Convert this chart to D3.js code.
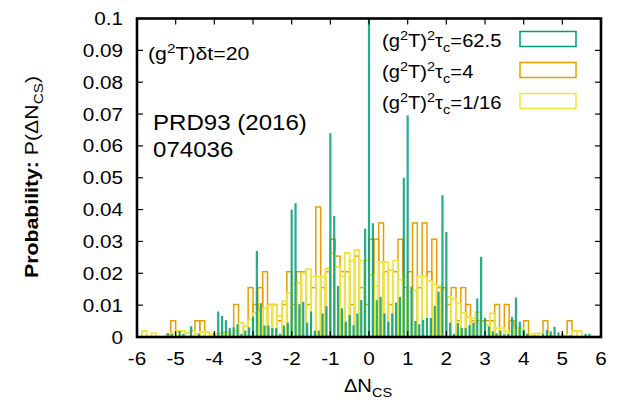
<!DOCTYPE html>
<html>
<head>
<meta charset="utf-8">
<script src="https://d3js.org/d3.v7.min.js"></script>
<style>
    body { margin: 0; background: #fff; }
    svg text { font-family: "Liberation Sans", Arial, sans-serif; fill: #000; }
</style>
</head>
<body>
<svg id="svg" width="621" height="402"></svg>
<script>
    // tick values / labels
    let xTicks = [-6, -5, -4, -3, -2, -1, 0, 1, 2, 3, 4, 5, 6];
    let yTicks = [0, 0.01, 0.02, 0.03, 0.04, 0.05, 0.06, 0.07, 0.08, 0.09, 0.1];
    let yTickLabels = ['0', '0.01', '0.02', '0.03', '0.04', '0.05', '0.06', '0.07', '0.08', '0.09', '0.1'];

    // (g^2T)^2 tau_c = 62.5 : narrow bins centred on -6.0, -5.9, ... 6.0
    let greenStart = -6, greenStep = 0.1;
    let greenVals = [
        0, 0, 0, 0, 0, 0, 0, 0, 0.0012, 0.001,           // -6.0 .. -5.1
        0, 0.0019, 0.001, 0, 0.0034, 0, 0.001, 0, 0, 0,   // -5.0 .. -4.1
        0.0012, 0.008, 0.0066, 0.0053, 0.0029, 0.003, 0.004, 0.001, 0.002, 0.003, // -4.0 .. -3.1
        0.0064, 0.027, 0.0106, 0.0036, 0.0036, 0.0028, 0.0028, 0.001, 0.0036, 0.0045, // -3.0 .. -2.1
        0.040, 0.042, 0.0103, 0.011, 0.0045, 0.008, 0.002, 0.002, 0.0074, 0.0097, // -2.0 .. -1.1
        0.064, 0.038, 0.016, 0.009, 0.0048, 0.0069, 0.0037, 0.0074, 0.0116, 0.034, // -1.0 .. -0.1
        0.125,                                            // 0
        0.0357, 0.0116, 0.0126, 0.0074, 0.0048, 0.0074, 0.0108, 0.0126, 0.050, 0.0696, // 0.1 .. 1.0
        0.0158, 0.005, 0.004, 0.0054, 0.006, 0.006, 0.0097, 0.0142, 0.0445, 0.033, // 1.1 .. 2.0
        0.0045, 0.001, 0.0044, 0.0028, 0.0028, 0.0037, 0.0045, 0.0121, 0.0252, 0.006, // 2.1 .. 3.0
        0.0033, 0.0018, 0.0012, 0.002, 0.0008, 0.001, 0.0063, 0.0124, 0.0048, 0.0023, // 3.1 .. 4.0
        0.001, 0, 0.0005, 0, 0.001, 0.0022, 0.0018, 0.0032, 0.0015, 0.0012, // 4.1 .. 5.0
        0, 0.0005, 0, 0, 0, 0.001, 0.001, 0, 0, 0          // 5.1 .. 6.0
    ];

    // (g^2T)^2 tau_c = 4 and 1/16 : boxes of width 0.125 starting at -6
    let boxStart = -6, boxStep = 0.125;
    let orangeVals = [
        0, 0, 0, 0, 0, 0, 0, 0.0051, 0, 0, 0, 0, 0.0051, 0.0051, 0, 0,
        0, 0, 0, 0, 0.0102, 0, 0, 0.0155, 0.0102, 0.0155, 0.0205, 0.0102, 0.0102, 0.0051, 0.0102, 0.0205,
        0.0102, 0.0205, 0.0205, 0.0102, 0.0155, 0.0408, 0.0155, 0.0205, 0.0307, 0.0254, 0.0205, 0.0205, 0.0102, 0.0254, 0.0155, 0.0102,
        0.0307, 0.0307, 0.0358, 0.0205, 0.0102, 0.0205, 0.0307, 0.0155, 0.0205, 0.0358, 0.0155, 0.0358, 0.0205, 0.0307, 0.0155, 0.0155,
        0.0102, 0.0155, 0.0051, 0.0155, 0.0102, 0.0051, 0.0051, 0.0051, 0.0051, 0.0051, 0.0102, 0, 0.0102, 0.0051, 0, 0,
        0.0051, 0, 0, 0, 0.0051, 0, 0, 0, 0, 0.0051, 0, 0, 0, 0, 0, 0
    ];
    let yellowVals = [
        0, 0.0019, 0, 0.0012, 0, 0, 0.0008, 0.0012, 0.0019, 0.0019, 0.0012, 0.0019, 0.001, 0.0016, 0.0016, 0.0008,
        0.001, 0.0012, 0.0016, 0.0008, 0.002, 0.0044, 0.0035, 0.0055, 0.0075, 0.008, 0.009, 0.010, 0.010, 0.0065, 0.0112, 0.0138,
        0.0165, 0.017, 0.020, 0.0213, 0.019, 0.019, 0.019, 0.0215, 0.0264, 0.022, 0.019, 0.0264, 0.024, 0.0273, 0.024, 0.024,
        0.0195, 0.016, 0.0235, 0.0235, 0.021, 0.024, 0.018, 0.019, 0.0142, 0.0146, 0.019, 0.019, 0.0176, 0.0165, 0.016, 0.015,
        0.0126, 0.012, 0.0105, 0.0076, 0.0063, 0.006, 0.0078, 0.0048, 0.0038, 0.0074, 0.0028, 0.0028, 0.0018, 0.0018, 0.0028, 0.0028,
        0.0008, 0.0008, 0.0011, 0.0011, 0, 0.0005, 0, 0, 0.0005, 0, 0.0019, 0.0019, 0, 0, 0, 0
    ];

    let legendLabels = ['62.5', '4', '1/16'];
    let colors = ['#009e73', '#e69f00', '#f0e442'];

    let svg = d3.select('#svg');
    let plotLeft = 137, plotRight = 601, plotTop = 18.5, plotBottom = 337;
    let SX = 1.12;   // the original font runs a bit wider than Liberation Sans

    let xScale = d3.scaleLinear().domain([-6, 6]).range([plotLeft, plotRight]);
    let yScale = d3.scaleLinear().domain([0, 0.1]).range([plotBottom, plotTop]);

    function addText(x, y, parts, size, anchor, rotate) {
        let g = svg.append('g')
            .attr('transform', `translate(${x},${y})` + (rotate ? ` rotate(${rotate})` : '') + ` scale(${SX},1)`);
        let t = g.append('text').attr('font-size', size).attr('text-anchor', anchor || 'start');
        let shift = 0;
        parts.forEach(p => {
            if (typeof p === 'string') p = [p];
            let kind = p[1];
            let target = kind === 'sup' ? -0.38 * size : kind === 'sub' ? 0.28 * size : 0;
            let ts = t.append('tspan').text(p[0]).attr('dy', target - shift);
            shift = target;
            if (kind === 'sup' || kind === 'sub') ts.attr('font-size', size * 0.72);
            if (p[2]) ts.attr('font-weight', 'bold');
        });
        return t;
    }

    svg.append('clipPath').attr('id', 'plotClip')
        .append('rect')
        .attr('x', plotLeft).attr('y', plotTop)
        .attr('width', plotRight - plotLeft).attr('height', plotBottom - plotTop);

    let plot = svg.append('g').attr('clip-path', 'url(#plotClip)');

    let yellowData = yellowVals.map((v, i) => ({ x0: boxStart + i * boxStep, v: v })).filter(d => d.v > 0);
    let orangeData = orangeVals.map((v, i) => ({ x0: boxStart + i * boxStep, v: v })).filter(d => d.v > 0);
    let greenData = greenVals.map((v, i) => ({ x: greenStart + i * greenStep, v: v })).filter(d => d.v > 0);
    let boxW = xScale(boxStep) - xScale(0);

    plot.selectAll('rect.orange')
        .data(orangeData)
        .enter()
        .append('rect')
            .attr('class', 'orange')
            .attr('x', d => xScale(d.x0))
            .attr('y', d => yScale(d.v))
            .attr('width', boxW)
            .attr('height', d => yScale(0) - yScale(d.v))
            .attr('fill', 'none')
            .attr('stroke', colors[1])
            .attr('stroke-width', 1.5);

    plot.selectAll('rect.yellow')
        .data(yellowData)
        .enter()
        .append('rect')
            .attr('class', 'yellow')
            .attr('x', d => xScale(d.x0))
            .attr('y', d => yScale(d.v))
            .attr('width', boxW)
            .attr('height', d => yScale(0) - yScale(d.v))
            .attr('fill', 'none')
            .attr('stroke', colors[2])
            .attr('stroke-width', 1.8);

    plot.selectAll('rect.green')
        .data(greenData)
        .enter()
        .append('rect')
            .attr('class', 'green')
            .attr('x', d => xScale(d.x) - 1.1)
            .attr('y', d => yScale(d.v))
            .attr('width', 2.2)
            .attr('height', d => yScale(0) - yScale(d.v))
            .attr('fill', colors[0])
            .attr('fill-opacity', 0.85);

    // ticks on all four sides, pointing inward
    let tickLen = 6;
    let ticks = svg.append('g').attr('stroke', '#000').attr('stroke-width', 1.2);
    xTicks.forEach(t => {
        ticks.append('line').attr('x1', xScale(t)).attr('x2', xScale(t)).attr('y1', plotBottom).attr('y2', plotBottom - tickLen);
        ticks.append('line').attr('x1', xScale(t)).attr('x2', xScale(t)).attr('y1', plotTop).attr('y2', plotTop + tickLen);
    });
    yTicks.forEach(t => {
        ticks.append('line').attr('x1', plotLeft).attr('x2', plotLeft + tickLen).attr('y1', yScale(t)).attr('y2', yScale(t));
        ticks.append('line').attr('x1', plotRight).attr('x2', plotRight - tickLen).attr('y1', yScale(t)).attr('y2', yScale(t));
    });

    svg.append('rect')
        .attr('x', plotLeft).attr('y', plotTop)
        .attr('width', plotRight - plotLeft).attr('height', plotBottom - plotTop)
        .attr('fill', 'none')
        .attr('stroke', '#000')
        .attr('stroke-width', 2.6);

    xTicks.forEach(t => addText(xScale(t), 365, [String(t)], 18.5, 'middle'));
    yTicks.forEach((t, i) => addText(123, yScale(t) + 6.5, [yTickLabels[i]], 18.5, 'end'));

    // axis titles
    addText(368, 392, ['\u0394N', ['CS', 'sub']], 18, 'middle');
    addText(37.5, 177, [['Probability:', null, true], ' P(\u0394N', ['CS', 'sub'], ')'], 19, 'middle', -90);

    // annotations
    addText(148, 60, ['(g', ['2', 'sup'], 'T)\u03b4t=20'], 19);
    addText(153, 130, ['PRD93 (2016)'], 21.5);
    addText(153, 157, ['074036'], 21.5);

    // legend
    let legendY = [46.5, 77.5, 108.5];
    legendLabels.forEach((lab, i) => {
        addText(382, legendY[i], ['(g', ['2', 'sup'], 'T)', ['2', 'sup'], '\u03c4', ['c', 'sub'], '=' + lab], 18, 'start');
        svg.append('rect')
            .attr('x', 520).attr('y', legendY[i] - 15)
            .attr('width', 56).attr('height', 15)
            .attr('fill', 'none')
            .attr('stroke', colors[i])
            .attr('stroke-width', 1.5);
    });
</script>
</body>
</html>
